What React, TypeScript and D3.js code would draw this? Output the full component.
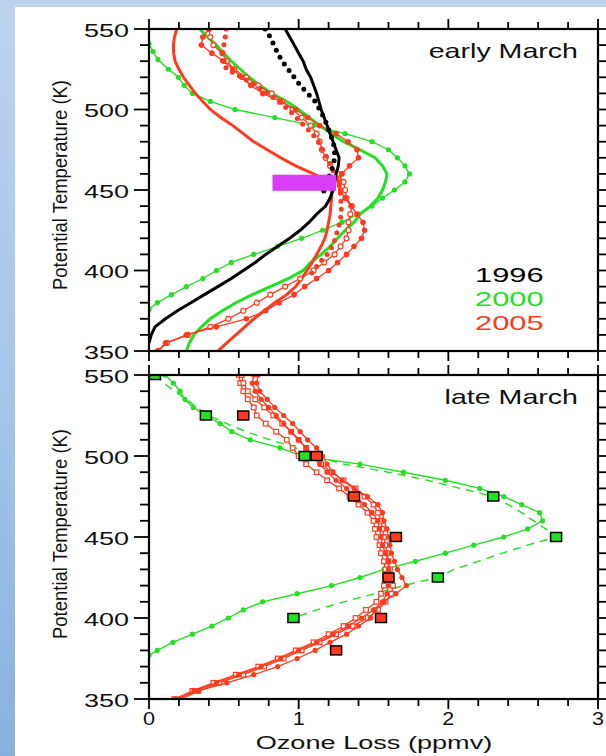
import React from 'react';
import * as d3 from 'd3';

// ---------- DATA ----------
const theta5 = [550,545,540,535,530,525,520,515,510,505,500,495,490,485,480,475,470,465,460,455,450,445,440,435,430,425,420,415,410,405,400,395,390,385,380,375,370,365,360,355,350];

// early March (top panel)
const black1996Solid = [0.91,0.94,0.97,1.00,1.03,1.05,1.08,1.10,1.12,1.135,1.15,1.17,1.19,1.21,1.23,1.25,1.27,1.265,1.25,1.24,1.23,1.21,1.18,1.12,1.07,1.01,0.94,0.86,0.78,0.71,0.63,0.55,0.46,0.37,0.28,0.19,0.11,0.04,0.015,0.0];
const black1996DotTheta = [550,545,540,535,530,525,520,515,510,505,500,495,490,485,480,475,470,465,460,455,450,447];
const black1996Dot = [0.776,0.81,0.835,0.86,0.89,0.93,0.97,1.01,1.06,1.11,1.14,1.17,1.19,1.21,1.23,1.24,1.24,1.23,1.21,1.19,1.17,1.16];

const green2000Thick = [0.34,0.39,0.45,0.50,0.55,0.61,0.67,0.74,0.82,0.92,1.00,1.07,1.14,1.22,1.30,1.41,1.51,1.56,1.59,1.58,1.56,1.53,1.48,1.41,1.37,1.31,1.26,1.21,1.15,1.08,1.03,0.93,0.81,0.69,0.58,0.49,0.41,0.35,0.30,0.27,0.25];
const green2000DotTheta = [541,536,531,525,520,515,510,505,500,495,490,485,480,475,470,465,460,455,450,445,440,435,430,425,420,415,410,405,400,395,390,385,380,376];
const green2000Dot = [0.0,0.027,0.06,0.13,0.196,0.235,0.29,0.41,0.575,0.84,1.10,1.31,1.49,1.60,1.66,1.71,1.74,1.71,1.64,1.56,1.49,1.40,1.29,1.16,1.02,0.86,0.70,0.55,0.45,0.36,0.25,0.15,0.056,0.0];

const red2005Thick = [0.185,0.17,0.163,0.165,0.174,0.20,0.23,0.27,0.31,0.36,0.41,0.48,0.56,0.63,0.70,0.79,0.88,0.98,1.10,1.21,1.22,1.22,1.215,1.21,1.20,1.19,1.175,1.15,1.12,1.09,1.055,1.02,0.98,0.92,0.84,0.77,0.70,0.64,0.58,0.52,0.46];
const red2005Filled = [0.40,0.36,0.35,0.42,0.50,0.56,0.62,0.68,0.76,0.88,0.98,1.06,1.14,1.25,1.33,1.39,1.40,1.34,1.29,1.27,1.28,1.31,1.35,1.39,1.43,1.44,1.42,1.37,1.32,1.26,1.20,1.12,1.04,0.97,0.87,0.78,0.65,0.45,0.25,0.11,0.06];
const red2005Open = [0.40,0.41,0.43,0.49,0.52,0.57,0.65,0.73,0.82,0.89,0.96,1.02,1.08,1.12,1.14,1.155,1.18,1.21,1.26,1.30,1.31,1.32,1.355,1.345,1.333,1.333,1.32,1.28,1.24,1.17,1.10,1.01,0.91,0.81,0.72,0.63,0.53,0.41,0.26,0.12,0.06];
const red2005DotTheta = [550,545,540,535,530,525,520,515,510,505,500,495,490,485,480,475,470,465,460,455,450,445,440,435,430,425,420,415,410,405,400,395];
const red2005Dot = [0.515,0.51,0.50,0.49,0.49,0.52,0.62,0.71,0.79,0.865,0.93,0.985,1.035,1.09,1.13,1.16,1.19,1.215,1.24,1.265,1.277,1.28,1.285,1.285,1.275,1.26,1.245,1.225,1.19,1.14,1.10,1.06];

const vortexBarLoss = [0.825, 1.25];
const vortexBarTheta = [449.5, 459.5];

// late March (bottom panel)
const lateGreenTheta = [550,545,540,535,530,525,520,515,510,505,500,495,490,485,480,475,470,465,460,455,450,445,440,435,430,425,420,415,410,405,400,395,390,385,380,377];
const lateGreenSolid = [0.107,0.163,0.207,0.24,0.296,0.38,0.475,0.553,0.676,0.876,1.02,1.41,1.70,1.98,2.21,2.37,2.49,2.61,2.63,2.53,2.37,2.17,1.98,1.78,1.57,1.41,1.22,0.99,0.76,0.63,0.53,0.42,0.29,0.16,0.055,0.0];
const lateGreenDashTheta = [550,545,540,535,530,525,520,515,510,505,500,495,490,485,480,475,470,465,460,455,450,445,440,435,430,425,420,415,410,405,400];
const lateGreenDash = [0.04,0.10,0.17,0.25,0.32,0.40,0.52,0.65,0.81,0.98,1.10,1.30,1.60,1.86,2.08,2.30,2.40,2.49,2.57,2.65,2.72,2.53,2.36,2.20,2.04,1.93,1.70,1.51,1.30,1.12,0.965];

const lateRedFilledA = [0.73,0.72,0.74,0.79,0.84,0.90,0.96,1.01,1.06,1.12,1.16,1.19,1.23,1.29,1.37,1.46,1.53,1.56,1.57,1.59,1.60,1.61,1.62,1.64,1.66,1.69,1.72,1.65,1.57,1.51,1.48,1.40,1.32,1.21,1.11,0.99,0.86,0.70,0.52,0.33,0.18];
const lateRedOpenA = [0.62,0.63,0.66,0.71,0.77,0.83,0.89,0.95,1.00,1.05,1.10,1.15,1.22,1.30,1.38,1.44,1.50,1.53,1.55,1.56,1.57,1.58,1.59,1.60,1.61,1.62,1.63,1.62,1.58,1.53,1.46,1.36,1.25,1.14,1.02,0.90,0.77,0.63,0.47,0.33,0.22];
const lateRedOpenB = [0.60,0.61,0.63,0.66,0.70,0.72,0.78,0.85,0.92,0.96,1.00,1.05,1.12,1.19,1.27,1.34,1.40,1.46,1.50,1.51,1.52,1.54,1.55,1.57,1.58,1.58,1.57,1.55,1.52,1.45,1.38,1.30,1.20,1.10,0.98,0.86,0.73,0.58,0.43,0.29,0.17];
const lateRedFilledB = [0.70,0.69,0.71,0.75,0.80,0.85,0.90,0.95,1.00,1.05,1.09,1.14,1.19,1.25,1.32,1.38,1.44,1.49,1.53,1.54,1.55,1.56,1.58,1.60,1.60,1.60,1.60,1.59,1.56,1.50,1.42,1.33,1.23,1.12,1.00,0.88,0.75,0.60,0.45,0.30,0.20];

const obsGreenTheta = [550,525,500,475,450,425,400];
const obsGreen = [0.04,0.38,1.04,2.30,2.72,1.93,0.965];
const obsRedTheta = [525,500,475,450,425,400,380];
const obsRed = [0.63,1.12,1.37,1.65,1.60,1.55,1.25];

const xMajorTicks = [0,1,2,3];
const yMajorTicks = [350,400,450,500,550];
const legendYears = ['1996','2000','2005'];

// ---------- STYLE ----------
const W = 606, H = 756;
const X0 = 149, X1 = 598;
const TOP = { y0: 29, y1: 351 };
const BOT = { y0: 375, y1: 699 };
const GREEN = '#22e022';
const RED = '#ff3b1f';
const BLACK = '#000000';
const MAGENTA = '#d63ff5';
const FONT = "'Liberation Sans', Arial, Helvetica, sans-serif";

const x = d3.scaleLinear().domain([0, 3]).range([X0, X1]);
const yTop = d3.scaleLinear().domain([350, 550]).range([TOP.y1, TOP.y0]);
const yBot = d3.scaleLinear().domain([350, 550]).range([BOT.y1, BOT.y0]);

type Pt = [number, number];
const zip = (vals: number[], th: number[]): Pt[] => vals.map((v, i) => [v, th[i]] as Pt);

function pathOf(pts: Pt[], y: d3.ScaleLinear<number, number>) {
  return d3.line<Pt>().x(d => x(d[0])).y(d => y(d[1]))(pts) || '';
}

function SText(props: { x: number; y: number; sx: number; size: number; anchor?: string; fill?: string; children: React.ReactNode }) {
  const { x: tx, y: ty, sx, size, anchor = 'start', fill = '#111', children } = props;
  return (
    <text transform={`translate(${tx},${ty}) scale(${sx},1)`} fontSize={size} textAnchor={anchor} fill={fill} fontFamily={FONT}>
      {children}
    </text>
  );
}

function Axes({ y, y0, y1 }: { y: d3.ScaleLinear<number, number>; y0: number; y1: number }) {
  const xt = x.ticks(15);
  const yt = y.ticks(20);
  const els: React.ReactNode[] = [];
  xt.forEach((t, i) => {
    const major = Math.abs(t - Math.round(t)) < 1e-6;
    const len = major ? 10 : 7;
    const px = x(t);
    els.push(<line key={'xt' + i} x1={px} x2={px} y1={y0} y2={y0 - len} stroke={BLACK} strokeWidth={1.8} />);
    els.push(<line key={'xb' + i} x1={px} x2={px} y1={y1} y2={y1 + len} stroke={BLACK} strokeWidth={1.8} />);
  });
  yt.forEach((t, i) => {
    const major = t % 50 === 0;
    const len = major ? 15 : 9;
    const py = y(t);
    els.push(<line key={'yl' + i} x1={X0} x2={X0 - len} y1={py} y2={py} stroke={BLACK} strokeWidth={1.8} />);
    els.push(<line key={'yr' + i} x1={X1} x2={X1 + len} y1={py} y2={py} stroke={BLACK} strokeWidth={1.8} />);
  });
  yMajorTicks.forEach((t, i) => {
    els.push(<SText key={'yl_' + i} x={129} y={y(t) + 7.5} sx={1.5} size={18} anchor="end">{t}</SText>);
  });
  els.push(<rect key="frame" x={X0} y={y0} width={X1 - X0} height={y1 - y0} fill="none" stroke={BLACK} strokeWidth={2.2} />);
  return <g>{els}</g>;
}

function Markers({ pts, y, kind, color, r = 2.6 }: { pts: Pt[]; y: d3.ScaleLinear<number, number>; kind: 'dot' | 'ocircle' | 'osquare'; color: string; r?: number }) {
  return (
    <g>
      {pts.map((d, i) => {
        const cx = x(d[0]), cy = y(d[1]);
        if (kind === 'dot') return <circle key={i} cx={cx} cy={cy} r={r} fill={color} />;
        if (kind === 'ocircle') return <circle key={i} cx={cx} cy={cy} r={r} fill="#fff" stroke={color} strokeWidth={1.2} />;
        return <rect key={i} x={cx - r} y={cy - r} width={2 * r} height={2 * r} fill="#fff" stroke={color} strokeWidth={1.2} />;
      })}
    </g>
  );
}

export default function App() {
  const blackSolid = zip(black1996Solid, theta5);
  const blackDot = zip(black1996Dot, black1996DotTheta);
  const gThick = zip(green2000Thick, theta5);
  const gDot = zip(green2000Dot, green2000DotTheta);
  const rThick = zip(red2005Thick, theta5);
  const rFilled = zip(red2005Filled, theta5);
  const rOpen = zip(red2005Open, theta5);
  const rDot = zip(red2005Dot, red2005DotTheta);

  const lgS = zip(lateGreenSolid, lateGreenTheta);
  const lgD = zip(lateGreenDash, lateGreenDashTheta);
  const lrFA = zip(lateRedFilledA, theta5);
  const lrOA = zip(lateRedOpenA, theta5);
  const lrOB = zip(lateRedOpenB, theta5);
  const lrFB = zip(lateRedFilledB, theta5);
  const oG = zip(obsGreen, obsGreenTheta);
  const oR = zip(obsRed, obsRedTheta);

  const legendColors = [BLACK, GREEN, RED];

  return (
    <svg width={W} height={H} style={{ position: 'absolute', left: 0, top: 0, display: 'block' }}>
      <defs>
        <linearGradient id="bg" x1="0" y1="0" x2="0" y2="1">
          <stop offset="0" stopColor="#bcd3ed" />
          <stop offset="0.5" stopColor="#a8c6ea" />
          <stop offset="1" stopColor="#88b1e0" />
        </linearGradient>
        <clipPath id="clipTop"><rect x={X0} y={TOP.y0} width={X1 - X0} height={TOP.y1 - TOP.y0} /></clipPath>
        <clipPath id="clipBot"><rect x={X0} y={BOT.y0} width={X1 - X0} height={BOT.y1 - BOT.y0} /></clipPath>
      </defs>
      <rect x={0} y={0} width={W} height={H} fill="url(#bg)" />
      <rect x={15} y={7} width={W - 15} height={H - 7} fill="#ffffff" />

      {/* TOP PANEL */}
      <g clipPath="url(#clipTop)">
        <path d={pathOf(gDot, yTop)} fill="none" stroke={GREEN} strokeWidth={1.3} />
        <Markers pts={gDot} y={yTop} kind="dot" color={GREEN} r={2.6} />
        <path d={pathOf(gThick, yTop)} fill="none" stroke={GREEN} strokeWidth={3} />
        <path d={pathOf(rThick, yTop)} fill="none" stroke={RED} strokeWidth={3} />
        <path d={pathOf(rOpen, yTop)} fill="none" stroke={RED} strokeWidth={1.3} />
        <Markers pts={rOpen} y={yTop} kind="ocircle" color={RED} r={2.5} />
        <path d={pathOf(rFilled, yTop)} fill="none" stroke={RED} strokeWidth={1.3} />
        <Markers pts={rFilled} y={yTop} kind="dot" color={RED} r={2.8} />
        <path d={pathOf(rDot, yTop)} fill="none" stroke={RED} strokeWidth={5} strokeDasharray="0 8" strokeLinecap="round" />
        <path d={pathOf(blackSolid, yTop)} fill="none" stroke={BLACK} strokeWidth={3} />
        <path d={pathOf(blackDot, yTop)} fill="none" stroke={BLACK} strokeWidth={5} strokeDasharray="0 8" strokeLinecap="round" />
        <rect x={x(vortexBarLoss[0])} y={yTop(vortexBarTheta[1])} width={x(vortexBarLoss[1]) - x(vortexBarLoss[0])} height={yTop(vortexBarTheta[0]) - yTop(vortexBarTheta[1])} fill={MAGENTA} />
      </g>
      <Axes y={yTop} y0={TOP.y0} y1={TOP.y1} />
      <SText x={578} y={58} sx={1.43} size={20} anchor="end">early March</SText>
      {legendYears.map((yr, i) => (
        <SText key={yr} x={475} y={282 + i * 24} sx={1.47} size={21} fill={legendColors[i]}>{yr}</SText>
      ))}

      {/* BOTTOM PANEL */}
      <g clipPath="url(#clipBot)">
        <path d={pathOf(lgD, yBot)} fill="none" stroke={GREEN} strokeWidth={1.4} strokeDasharray="8 6" />
        <path d={pathOf(lgS, yBot)} fill="none" stroke={GREEN} strokeWidth={1.4} />
        <Markers pts={lgS} y={yBot} kind="dot" color={GREEN} r={2.6} />
        <path d={pathOf(lrOB, yBot)} fill="none" stroke={RED} strokeWidth={1.3} />
        <Markers pts={lrOB} y={yBot} kind="osquare" color={RED} r={2.3} />
        <path d={pathOf(lrOA, yBot)} fill="none" stroke={RED} strokeWidth={1.3} />
        <Markers pts={lrOA} y={yBot} kind="osquare" color={RED} r={2.3} />
        <path d={pathOf(lrFB, yBot)} fill="none" stroke={RED} strokeWidth={1.3} />
        <Markers pts={lrFB} y={yBot} kind="dot" color={RED} r={2.6} />
        <path d={pathOf(lrFA, yBot)} fill="none" stroke={RED} strokeWidth={1.3} />
        <Markers pts={lrFA} y={yBot} kind="dot" color={RED} r={2.6} />
        {oG.map((d, i) => (
          <rect key={'og' + i} x={x(d[0]) - 5.5} y={yBot(d[1]) - 4.5} width={11} height={9} fill={GREEN} stroke={BLACK} strokeWidth={1.5} />
        ))}
        {oR.map((d, i) => (
          <rect key={'or' + i} x={x(d[0]) - 5.5} y={yBot(d[1]) - 4.5} width={11} height={9} fill={RED} stroke={BLACK} strokeWidth={1.5} />
        ))}
      </g>
      <Axes y={yBot} y0={BOT.y0} y1={BOT.y1} />
      <SText x={578} y={404} sx={1.43} size={20} anchor="end">late March</SText>

      {/* X tick labels and axis titles */}
      {xMajorTicks.map(t => (
        <SText key={'xl' + t} x={x(t)} y={725} sx={1.2} size={18} anchor="middle">{t}</SText>
      ))}
      <SText x={374} y={749} sx={1.55} size={17.5} anchor="middle">Ozone Loss (ppmv)</SText>
      <text transform={`translate(67,185) rotate(-90) scale(1,1.1)`} fontSize={19} textAnchor="middle" fill="#111" fontFamily={FONT} textLength={210} lengthAdjust="spacingAndGlyphs">Potential Temperature (K)</text>
      <text transform={`translate(67,534) rotate(-90) scale(1,1.1)`} fontSize={19} textAnchor="middle" fill="#111" fontFamily={FONT} textLength={210} lengthAdjust="spacingAndGlyphs">Potential Temperature (K)</text>
    </svg>
  );
}
